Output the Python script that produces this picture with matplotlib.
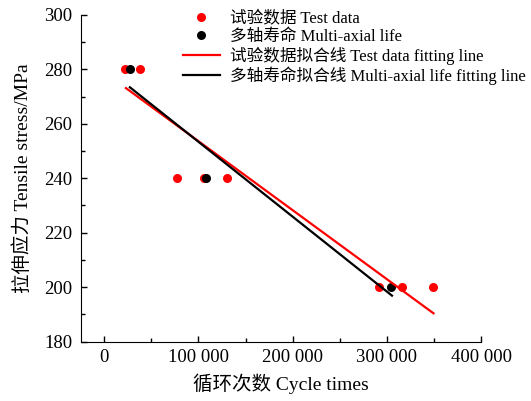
import numpy as np
import matplotlib.pyplot as plt
from matplotlib.ticker import MultipleLocator, FuncFormatter

plt.rcParams['font.family'] = ['Liberation Serif', 'Noto Sans CJK SC']

# test data (cycles, stress MPa)
test_cycles = [21900, 37800, 77700, 105900, 130700, 292000, 316000, 348800]
test_stress = [280, 280, 240, 240, 240, 200, 200, 200]

# multi-axial life prediction
multi_cycles = [27500, 108000, 304700]
multi_stress = [280, 240, 200]

# fitting line end points
test_fit_x = [23000, 349500]
test_fit_y = [273.1, 190.4]
multi_fit_x = [27200, 305400]
multi_fit_y = [273.4, 196.9]

fig = plt.figure(figsize=(5.31, 4.01), dpi=100)
ax = fig.add_axes([0.152, 0.148, 0.754, 0.815])

ax.plot(test_cycles, test_stress, 'o', color='#ff0000', markersize=6.5,
        markeredgewidth=0, label='试验数据 Test data')
ax.plot(multi_cycles, multi_stress, 'o', color='black', markersize=6.5,
        markeredgewidth=0, label='多轴寿命 Multi-axial life')
ax.plot(test_fit_x, test_fit_y, '-', color='#ff0000', linewidth=1.6,
        label='试验数据拟合线 Test data fitting line')
ax.plot(multi_fit_x, multi_fit_y, '-', color='black', linewidth=1.6,
        label='多轴寿命拟合线 Multi-axial life fitting line')

ax.set_xlim(-25000, 400000)
ax.set_ylim(180, 300)
ax.xaxis.set_major_locator(MultipleLocator(100000))
ax.xaxis.set_minor_locator(MultipleLocator(50000))
ax.yaxis.set_major_locator(MultipleLocator(20))
ax.yaxis.set_minor_locator(MultipleLocator(10))
ax.xaxis.set_major_formatter(FuncFormatter(lambda v, p: '{:,}'.format(int(v)).replace(',', ' ')))

ax.spines['top'].set_visible(False)
ax.spines['right'].set_visible(False)
ax.tick_params(which='both', direction='in', labelsize=13.5, width=1)
ax.tick_params(which='major', length=4)
ax.tick_params(which='minor', length=3)
ax.tick_params(axis='x', which='major', pad=5)
ax.tick_params(axis='y', which='major', pad=6)

ax.set_xlabel('循环次数 Cycle times', fontsize=14, labelpad=6)
ax.set_ylabel('拉伸应力 Tensile stress/MPa', fontsize=14, labelpad=9)

ax.legend(loc='upper left', bbox_to_anchor=(183 / 531, 0.972),
          bbox_transform=fig.transFigure, frameon=False, fontsize=12,
          borderpad=0, borderaxespad=0, handlelength=2.2,
          handletextpad=0.6, labelspacing=0.1)

fig.savefig('out.png', dpi=100)
